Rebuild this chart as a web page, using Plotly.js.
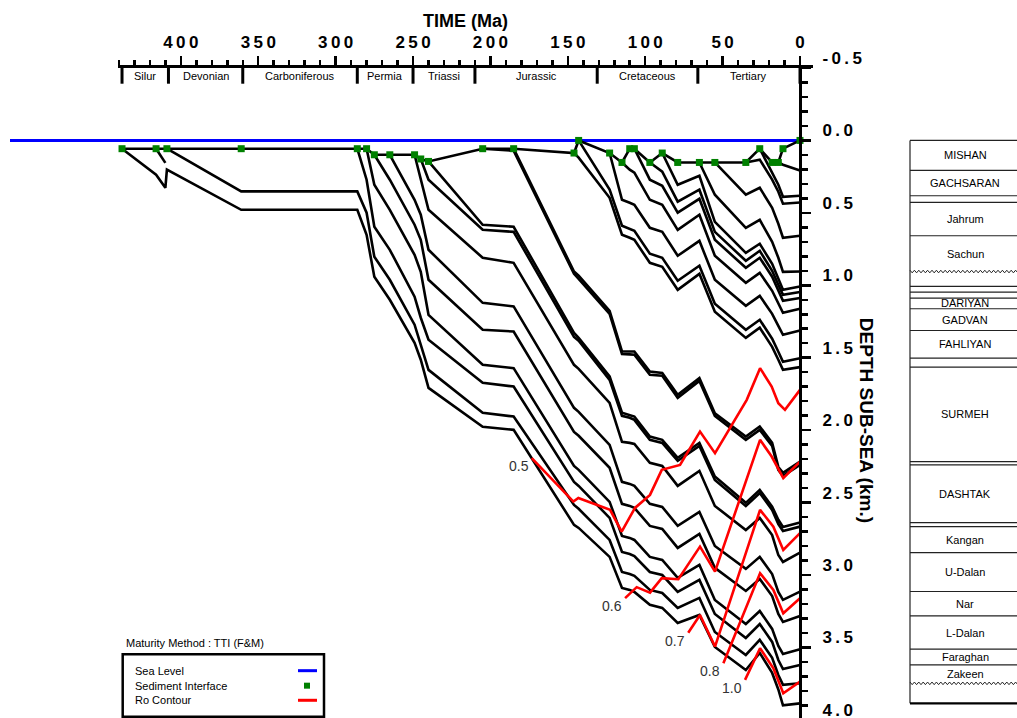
<!DOCTYPE html>
<html><head><meta charset="utf-8">
<script src="https://cdn.plot.ly/plotly-3.0.1.min.js"></script>
<style>html,body{margin:0;padding:0;overflow:hidden;background:#fff}</style>
</head><body><div id="chart"></div>
<script>
// ---------- DATA ----------
const nodeAges = [438, 416, 410, 409, 361, 286, 280, 275, 265, 249, 245, 240, 205, 185, 146, 143, 123, 115, 110, 107, 97, 89, 79, 65, 55, 35, 26, 18, 14, 11, 0];

// burial curves: depth (km) from deposition age to present
const hz438 = [0.057, 0.237, 0.327, 0.202, 0.479, 0.479, 0.651, 0.941, 1.100, 1.397, 1.514, 1.708, 1.977, 1.998, 2.654, 2.675, 2.875, 3.089, 3.103, 3.117, 3.206, 3.227, 3.331, 3.276, 3.497, 3.656, 3.538, 3.676, 3.79, 3.90, 3.886];
const hz416 = [0.057, 0.155];
const hz409 = [0.057, 0.352, 0.352, 0.499, 0.803, 0.962, 1.272, 1.411, 1.584, 1.880, 1.906, 2.516, 2.543, 2.758, 2.979, 2.993, 3.006, 3.103, 3.124, 3.227, 3.158, 3.393, 3.552, 3.448, 3.572, 3.690, 3.758, 3.747];
const hz286 = [0.057, 0.271, 0.596, 0.755, 1.079, 1.224, 1.376, 1.673, 1.699, 2.357, 2.385, 2.606, 2.841, 2.855, 2.869, 2.979, 3.000, 3.117, 3.034, 3.269, 3.435, 3.338, 3.462, 3.587, 3.649, 3.621];
const hz280 = [0.057, 0.306, 0.479, 0.790, 0.907, 1.204, 1.549, 1.572, 2.247, 2.274, 2.495, 2.730, 2.744, 2.758, 2.875, 2.896, 3.020, 2.930, 3.172, 3.338, 3.248, 3.372, 3.490, 3.545, 3.512];
const hz275 = [0.099, 0.271, 0.582, 0.686, 0.962, 1.307, 1.319, 2.012, 2.039, 2.260, 2.509, 2.523, 2.537, 2.661, 2.682, 2.813, 2.717, 2.951, 3.110, 3.027, 3.145, 3.269, 3.324, 3.283];
const hz265 = [0.099, 0.410, 0.513, 0.755, 1.121, 1.146, 1.846, 1.874, 2.102, 2.357, 2.371, 2.385, 2.509, 2.530, 2.661, 2.565, 2.800, 2.958, 2.875, 2.993, 3.117, 3.172, 3.115];
const hz249 = [0.099, 0.271, 0.479, 0.810, 0.845, 1.549, 1.577, 1.812, 2.081, 2.088, 2.095, 2.226, 2.247, 2.385, 2.281, 2.523, 2.689, 2.606, 2.724, 2.862, 2.910, 2.845];
const hz245 = [0.128, 0.271, 0.617, 0.631, 1.356, 1.383, 1.653, 1.901, 1.915, 1.929, 2.067, 2.088, 2.212, 2.109, 2.344, 2.524, 2.434, 2.551, 2.648, 2.696, 2.666];
const hz240 = [0.145, 0.582, 0.596, 1.328, 1.363, 1.629, 1.880, 1.894, 1.906, 2.044, 2.067, 2.191, 2.088, 2.320, 2.502, 2.412, 2.528, 2.619, 2.668, 2.638];
const hz205 = [0.057, 0.071, 0.921, 0.955, 1.197, 1.474, 1.477, 1.480, 1.618, 1.625, 1.777, 1.660, 1.901, 2.067, 1.998, 2.109, 2.274, 2.316, 2.240];
const hz185 = [0.057, 0.905, 0.934, 1.176, 1.457, 1.457, 1.457, 1.595, 1.606, 1.756, 1.641, 1.883, 2.044, 1.975, 2.088, 2.254, 2.295, 2.217];
const hz146 = [0.087, 0.119, 0.396, 0.651, 0.672, 0.686, 0.845, 0.872, 1.031, 0.921, 1.183, 1.363, 1.293, 1.425, 1.514, 1.583, 1.565];
const hz143 = [0.0, 0.340, 0.589, 0.610, 0.624, 0.782, 0.810, 0.969, 0.865, 1.128, 1.307, 1.238, 1.369, 1.459, 1.528, 1.503];
const hz123 = [0.087, 0.410, 0.430, 0.444, 0.603, 0.631, 0.796, 0.693, 0.962, 1.142, 1.073, 1.197, 1.280, 1.342, 1.312];
const hz115 = [0.152, 0.202, 0.223, 0.410, 0.444, 0.617, 0.513, 0.796, 0.983, 0.914, 1.038, 1.128, 1.190, 1.162];
const hz107 = [0.057, 0.271, 0.313, 0.499, 0.403, 0.686, 0.879, 0.810, 0.941, 1.038, 1.107, 1.088];
const hz97 = [0.152, 0.216, 0.423, 0.340, 0.631, 0.831, 0.762, 0.900, 0.997, 1.066, 1.047];
const hz89 = [0.087, 0.306, 0.244, 0.562, 0.776, 0.713, 0.852, 0.955, 1.031, 1.008];
const hz65 = [0.152, 0.375, 0.603, 0.548, 0.700, 0.810, 0.907, 0.905];
const hz55 = [0.152, 0.375, 0.327, 0.465, 0.575, 0.672, 0.658];
const hz35 = [0.152, 0.133, 0.271, 0.354, 0.437, 0.428];
const hz26 = [0.057, 0.216, 0.306, 0.389, 0.382];
const hz14 = [0.152, 0.168, 0.207];

const horizonStarts = [438, 416, 409, 286, 280, 275, 265, 249, 245, 240, 205, 185, 146, 143, 123, 115, 107, 97, 89, 65, 55, 35, 26, 14];
const horizonDepths = [hz438, hz416, hz409, hz286, hz280, hz275, hz265, hz249, hz245, hz240, hz205, hz185, hz146, hz143, hz123, hz115, hz107, hz97, hz89, hz65, hz55, hz35, hz26, hz14];

// sediment surface / interface markers
const surfaceAges = [438, 416, 409, 361, 286, 280, 275, 265, 249, 245, 240, 205, 185, 146, 143, 123, 115, 110, 107, 97, 89, 79, 65, 55, 35, 26, 18, 14, 11, 0];
const surfaceDepths = [0.057, 0.057, 0.057, 0.057, 0.057, 0.057, 0.099, 0.099, 0.099, 0.128, 0.145, 0.057, 0.057, 0.087, 0.0, 0.087, 0.152, 0.057, 0.057, 0.152, 0.087, 0.152, 0.152, 0.152, 0.152, 0.057, 0.152, 0.152, 0.057, 0.0];
const seaLevelDepth = 0.0;

// Ro contours
const roLabels = ['0.5', '0.6', '0.7', '0.8', '1.0'];
const ro05Ages = [173.3, 146.4, 143.2, 122.7, 115.2, 106.6, 96.9, 89.3, 77.5, 64.6, 54.9, 34.4, 25.8, 18.3, 14.0, 9.7, 0];
const ro05Depths = [2.193, 2.493, 2.468, 2.550, 2.700, 2.537, 2.447, 2.274, 2.240, 2.010, 2.159, 1.791, 1.572, 1.699, 1.814, 1.860, 1.722];
const ro06Ages = [113.0, 105.5, 96.9, 89.3, 78.6, 64.6, 54.9, 25.8, 18.3, 10.8, 0];
const ro06Depths = [3.160, 3.084, 3.122, 3.022, 3.029, 2.804, 2.977, 2.067, 2.182, 2.331, 2.217];
const ro07Ages = [72.2, 64.6, 54.9, 25.8, 17.2, 10.8, 0];
const ro07Depths = [3.398, 3.276, 3.494, 2.550, 2.666, 2.827, 2.711];
const ro08Ages = [49.5, 25.8, 17.2, 10.8, 0];
const ro08Depths = [3.609, 2.988, 3.103, 3.264, 3.160];
const ro10Ages = [35.5, 25.8, 17.2, 10.8, 0];
const ro10Depths = [3.724, 3.506, 3.644, 3.816, 3.736];
const roAges = [ro05Ages, ro06Ages, ro07Ages, ro08Ages, ro10Ages];
const roDepths = [ro05Depths, ro06Depths, ro07Depths, ro08Depths, ro10Depths];

// geologic periods
const periodBounds = [438, 408, 360, 286, 250, 210, 131, 66, 0];
const periodNames = ['Silur', 'Devonian', 'Carboniferous', 'Permia', 'Triassi', 'Jurassic', 'Cretaceous', 'Tertiary'];

// axis ticks
const timeTicks = [400, 350, 300, 250, 200, 150, 100, 50, 0];
const timeTickLabels = ['400', '350', '300', '250', '200', '150', '100', '50', '0'];
const depthTicks = [-0.5, 0, 0.5, 1.0, 1.5, 2.0, 2.5, 3.0, 3.5, 4.0];
const depthTickLabels = ['-0.5', '0.0', '0.5', '1.0', '1.5', '2.0', '2.5', '3.0', '3.5', '4.0'];

// stratigraphic column (present-day formation tops, km)
const columnTops = [0.0, 0.207, 0.382, 0.428, 0.658, 0.905, 1.008, 1.047, 1.088, 1.162, 1.312, 1.503, 1.565, 2.217, 2.240, 2.638, 2.666, 2.845, 3.114, 3.282, 3.512, 3.621, 3.748];
const columnBase = 3.886;
const formationNames = ['MISHAN', 'GACHSARAN', '', 'Jahrum', 'Sachun', '', '', '', 'DARIYAN', 'GADVAN', 'FAHLIYAN', '', 'SURMEH', '', 'DASHTAK', '', 'Kangan', 'U-Dalan', 'Nar', 'L-Dalan', 'Faraghan', 'Zakeen', ''];
const unconformities = [0.905, 3.748];

// ---------- LAYOUT HELPERS ----------
const W = 1017, H = 730, L = 118, R = 813, T = 68.3;
const PW = R - L, PH = H - T;
const pxX = v => (v - L) / PW;
const pxY = v => (H - v) / PH;
const spaced = s => s.split('').join('\u2009');

const FONT = 'Liberation Sans, Arial, sans-serif';
const NARROW = "'Liberation Sans Narrow', 'Arial Narrow', 'Liberation Sans', Arial, sans-serif";

// ---------- TRACES ----------
const traces = [];
horizonStarts.forEach((s, k) => {
  const d = horizonDepths[k];
  const i0 = nodeAges.indexOf(s);
  const ages = nodeAges.slice(i0, i0 + d.length);
  traces.push({x: ages, y: d.slice(0, ages.length), mode: 'lines', type: 'scatter',
    line: {color: '#000', width: 2.6}, hoverinfo: 'skip', showlegend: false});
});
traces.push({x: surfaceAges, y: surfaceDepths, mode: 'lines', type: 'scatter',
  line: {color: '#000', width: 2.6}, hoverinfo: 'skip', showlegend: false});
roAges.forEach((a, k) => {
  traces.push({x: a, y: roDepths[k], mode: 'lines', type: 'scatter', name: 'Ro ' + roLabels[k],
    line: {color: '#ff0000', width: 2.6}, hoverinfo: 'skip', showlegend: false});
});
traces.push({x: surfaceAges, y: surfaceDepths, mode: 'markers', type: 'scatter', cliponaxis: false,
  marker: {symbol: 'square', size: 7, color: '#008000'}, hoverinfo: 'skip', showlegend: false});

// ---------- SHAPES & ANNOTATIONS ----------
const shapes = [];
const annotations = [];

// sea level
shapes.push({type: 'line', xref: 'paper', yref: 'y', x0: pxX(10), x1: pxX(800), y0: seaLevelDepth, y1: seaLevelDepth,
  line: {color: '#0000ff', width: 3}, layer: 'below'});

// period band
periodBounds.forEach(b => {
  shapes.push({type: 'line', xref: 'x', yref: 'paper', x0: b, x1: b, y0: pxY(T), y1: pxY(84),
    line: {color: '#000', width: 3}});
});
periodNames.forEach((n, i) => {
  annotations.push({xref: 'x', yref: 'paper', x: (periodBounds[i] + periodBounds[i + 1]) / 2, y: pxY(76),
    text: n, showarrow: false, xanchor: 'center', yanchor: 'middle',
    font: {family: NARROW, size: 11, color: '#000'}});
});

// Ro contour labels
roLabels.forEach((lab, k) => {
  annotations.push({xref: 'x', yref: 'y', x: roAges[k][0], y: roDepths[k][0], text: lab, showarrow: false,
    xanchor: 'right', yanchor: 'middle', xshift: -1, yshift: -8,
    font: {family: FONT, size: 14, color: '#333'}});
});

// y-axis title (reads top to bottom)
annotations.push({xref: 'paper', yref: 'paper', x: pxX(866), y: pxY(420), text: 'DEPTH SUB-SEA (km.)',
  textangle: 90, showarrow: false, xanchor: 'center', yanchor: 'middle',
  font: {family: FONT, size: 19, weight: 'bold', color: '#000'}});

// stratigraphic column
const cx0 = pxX(910), cx1 = pxX(1017);
shapes.push({type: 'line', xref: 'paper', yref: 'y', x0: cx0, x1: cx0, y0: columnTops[0], y1: columnBase,
  line: {color: '#222', width: 1.2}});
columnTops.forEach(t => {
  if (unconformities.includes(t)) {
    let p = '';
    const step = 2.2 / PW;
    let i = 0;
    for (let x = cx0; x <= cx1 + step; x += step, i++) {
      p += (i === 0 ? 'M' : 'L') + x + ',' + (t + (i % 2 ? 0.009 : -0.009)) + ' ';
    }
    shapes.push({type: 'path', xref: 'paper', yref: 'y', path: p, line: {color: '#222', width: 1}});
  } else {
    shapes.push({type: 'line', xref: 'paper', yref: 'y', x0: cx0, x1: cx1, y0: t, y1: t,
      line: {color: '#222', width: 1.2}});
  }
});
shapes.push({type: 'line', xref: 'paper', yref: 'y', x0: cx0, x1: cx1, y0: columnBase, y1: columnBase,
  line: {color: '#000', width: 2.2}});
formationNames.forEach((n, i) => {
  if (!n) return;
  const bot = i + 1 < columnTops.length ? columnTops[i + 1] : columnBase;
  annotations.push({xref: 'paper', yref: 'y', x: pxX(965), y: (columnTops[i] + bot) / 2, text: n,
    showarrow: false, xanchor: 'center', yanchor: 'middle',
    font: {family: NARROW, size: 11, color: '#000'}});
});

// legend box
annotations.push({xref: 'paper', yref: 'paper', x: pxX(124), y: pxY(643), text: 'Maturity Method : TTI (F&amp;M)',
  showarrow: false, xanchor: 'left', yanchor: 'middle', font: {family: NARROW, size: 11, color: '#000'}});
shapes.push({type: 'rect', xref: 'paper', yref: 'paper', x0: pxX(122.7), x1: pxX(324), y0: pxY(716.7), y1: pxY(654.3),
  line: {color: '#000', width: 2.5}, fillcolor: 'rgba(0,0,0,0)'});
const legendItems = ['Sea Level', 'Sediment Interface', 'Ro Contour'];
const legendY = [670.7, 685.7, 700.3];
legendItems.forEach((t, i) => {
  annotations.push({xref: 'paper', yref: 'paper', x: pxX(133), y: pxY(legendY[i]), text: t, showarrow: false,
    xanchor: 'left', yanchor: 'middle', font: {family: NARROW, size: 11, color: '#000'}});
});
shapes.push({type: 'line', xref: 'paper', yref: 'paper', x0: pxX(298), x1: pxX(317), y0: pxY(legendY[0]), y1: pxY(legendY[0]),
  line: {color: '#0000ff', width: 3}});
shapes.push({type: 'rect', xref: 'paper', yref: 'paper', x0: pxX(304), x1: pxX(310), y0: pxY(legendY[1] + 3), y1: pxY(legendY[1] - 3),
  line: {width: 0}, fillcolor: '#008000'});
shapes.push({type: 'line', xref: 'paper', yref: 'paper', x0: pxX(298), x1: pxX(317), y0: pxY(legendY[2]), y1: pxY(legendY[2]),
  line: {color: '#ff0000', width: 3}});

const tickFont = {family: FONT, size: 17, weight: 'bold', color: '#000'};

const layout = {
  width: W, height: H,
  margin: {l: L, r: W - R, t: T, b: 0, pad: 0},
  paper_bgcolor: '#fff', plot_bgcolor: '#fff', showlegend: false,
  xaxis: {
    range: [440.6, -8.4], side: 'top', showline: true, linewidth: 3, linecolor: '#000',
    showgrid: false, zeroline: false, automargin: false, fixedrange: true,
    ticks: 'outside', ticklen: 9, tickwidth: 2.5, tickcolor: '#000',
    tickmode: 'array', tickvals: timeTicks, ticktext: timeTickLabels.map(spaced), tickfont: tickFont,
    ticklabelstandoff: 1,
    minor: {tickmode: 'linear', tick0: 0, dtick: 10, ticks: 'outside', ticklen: 5, tickwidth: 2.5, tickcolor: '#000', showgrid: false},
    title: {text: 'TIME (Ma)', font: {family: FONT, size: 18, weight: 'bold', color: '#000'}, standoff: 1}
  },
  yaxis: {
    range: [4.07, -0.5], anchor: 'free', position: pxX(800), side: 'right',
    showline: true, linewidth: 3, linecolor: '#000',
    showgrid: false, zeroline: false, automargin: false, fixedrange: true,
    ticks: 'outside', ticklen: 9, tickwidth: 2.5, tickcolor: '#000',
    tickmode: 'array', tickvals: depthTicks, ticktext: depthTickLabels.map(spaced), tickfont: tickFont,
    ticklabelshift: 10, ticklabelstandoff: 8,
    minor: {tickmode: 'linear', tick0: 0, dtick: 0.1, ticks: 'outside', ticklen: 6, tickwidth: 2.5, tickcolor: '#000', showgrid: false}
  },
  shapes: shapes,
  annotations: annotations
};

Plotly.newPlot('chart', traces, layout, {staticPlot: true, displayModeBar: false});
</script>
</body></html>
